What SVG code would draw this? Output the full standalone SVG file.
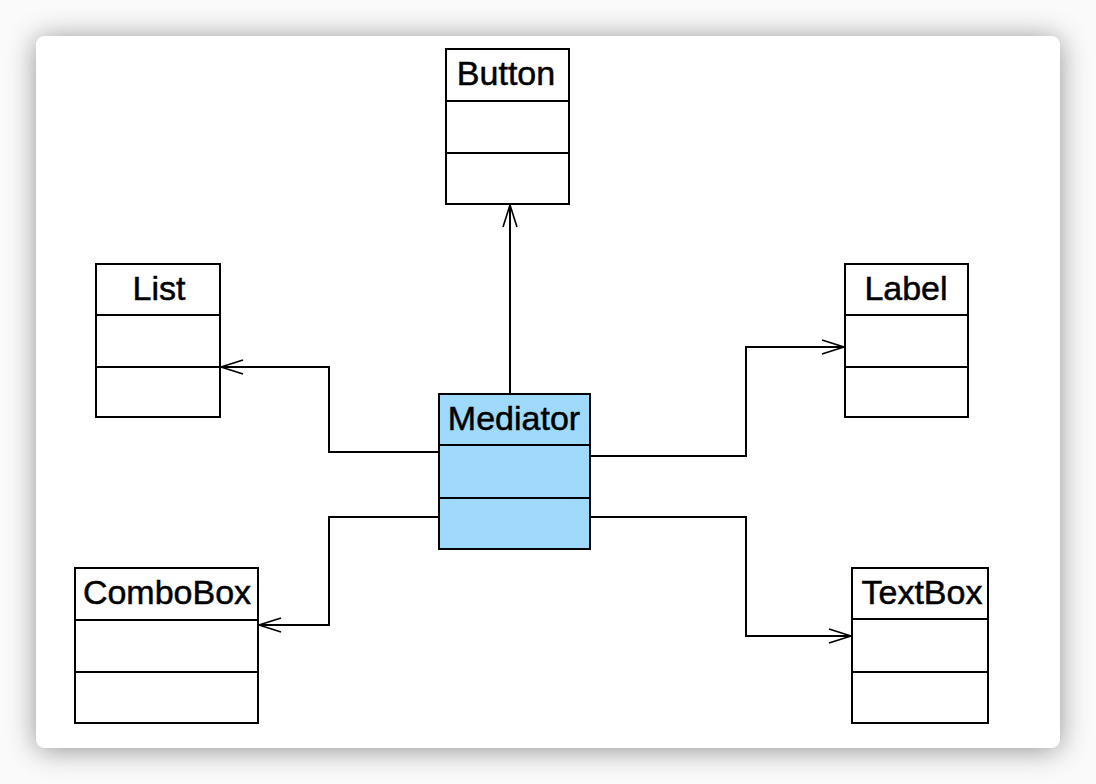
<svg xmlns="http://www.w3.org/2000/svg" width="1096" height="784" viewBox="0 0 1096 784">
  <defs>
    <filter id="shadow" x="-10%" y="-10%" width="120%" height="120%">
      <feDropShadow dx="0" dy="2" stdDeviation="14" flood-color="#000" flood-opacity="0.42"/>
    </filter>
    <marker id="open" markerUnits="userSpaceOnUse" markerWidth="30" markerHeight="20" viewBox="-26 -10 30 20" refX="0" refY="0" orient="auto">
      <path d="M -22 -7 L 0 0 L -22 7" fill="none" stroke="#000" stroke-width="1.6"/>
    </marker>
    <style>
      .box { fill: #fff; stroke: #000; stroke-width: 2; }
      .med { fill: #9fd9fb; stroke: #000; stroke-width: 2; }
      .div { stroke: #000; stroke-width: 2; }
      .name { font-family: "Liberation Sans", Arial, sans-serif; font-size: 34px; fill: #000; stroke: #000; stroke-width: 0.5; text-anchor: middle; }
      .conn { fill: none; stroke: #000; stroke-width: 2; marker-end: url(#open); }
    </style>
  </defs>
  <rect x="0" y="0" width="1096" height="784" fill="#fafafa"/>
  <rect x="36" y="36" width="1024" height="712" rx="9" fill="#fff" filter="url(#shadow)"/>

  <g id="connectors">
    <path class="conn" d="M 510 394 L 510 205"/>
    <path class="conn" d="M 439 452 L 329 452 L 329 367 L 221 367"/>
    <path class="conn" d="M 439 517 L 329 517 L 329 625 L 259 625"/>
    <path class="conn" d="M 590 456 L 746 456 L 746 347 L 844 347"/>
    <path class="conn" d="M 590 517 L 746 517 L 746 636 L 851 636"/>
  </g>

  <g id="button">
    <rect class="box" x="446" y="49" width="123" height="155"/>
    <line class="div" x1="446" y1="101" x2="569" y2="101"/>
    <line class="div" x1="446" y1="153" x2="569" y2="153"/>
    <text class="name" x="506" y="85">Button</text>
  </g>

  <g id="list">
    <rect class="box" x="96" y="264" width="124" height="153"/>
    <line class="div" x1="96" y1="315" x2="220" y2="315"/>
    <line class="div" x1="96" y1="367" x2="220" y2="367"/>
    <text class="name" x="159" y="300">List</text>
  </g>

  <g id="label">
    <rect class="box" x="845" y="264" width="123" height="153"/>
    <line class="div" x1="845" y1="315" x2="968" y2="315"/>
    <line class="div" x1="845" y1="367" x2="968" y2="367"/>
    <text class="name" x="906" y="300">Label</text>
  </g>

  <g id="mediator">
    <rect class="med" x="439" y="394" width="151" height="155"/>
    <line class="div" x1="439" y1="445" x2="590" y2="445"/>
    <line class="div" x1="439" y1="498" x2="590" y2="498"/>
    <text class="name" x="514" y="430">Mediator</text>
  </g>

  <g id="combobox">
    <rect class="box" x="75" y="568" width="183" height="155"/>
    <line class="div" x1="75" y1="620" x2="258" y2="620"/>
    <line class="div" x1="75" y1="672" x2="258" y2="672"/>
    <text class="name" x="167" y="604">ComboBox</text>
  </g>

  <g id="textbox">
    <rect class="box" x="852" y="568" width="136" height="155"/>
    <line class="div" x1="852" y1="619" x2="988" y2="619"/>
    <line class="div" x1="852" y1="672" x2="988" y2="672"/>
    <text class="name" x="922" y="604">TextBox</text>
  </g>
</svg>
